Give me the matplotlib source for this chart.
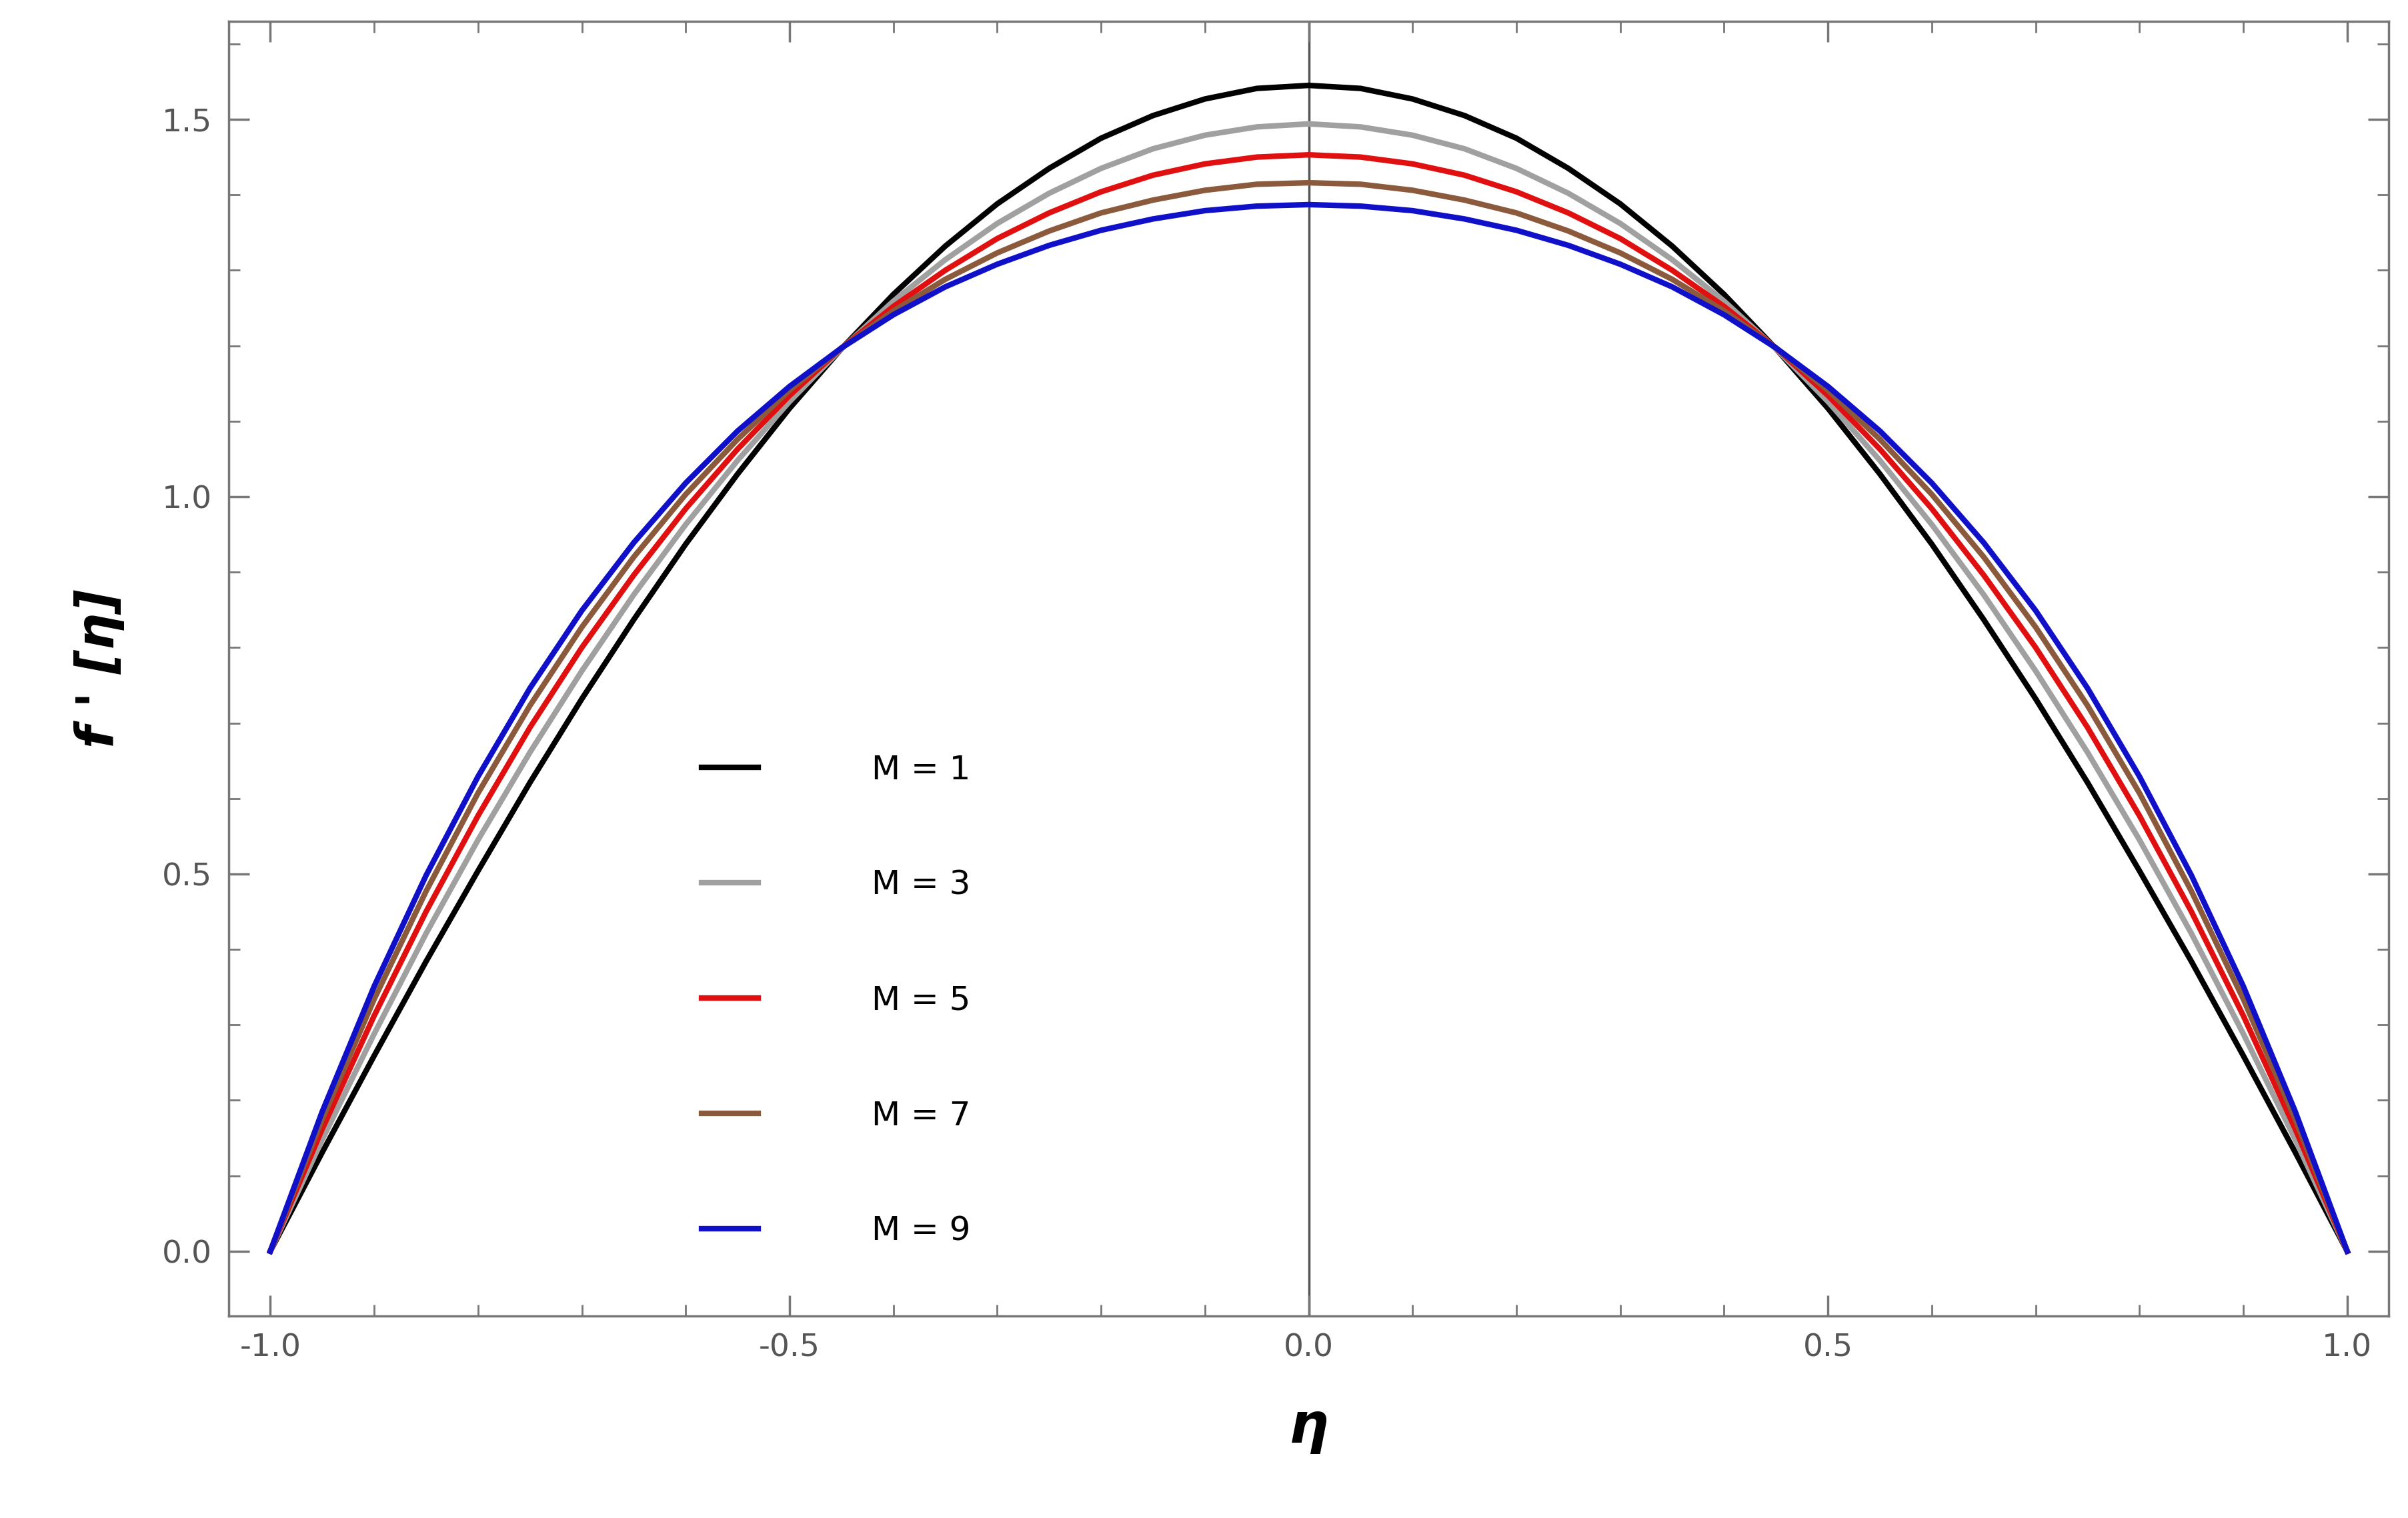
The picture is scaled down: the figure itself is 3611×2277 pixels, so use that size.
import matplotlib
matplotlib.use("Agg")
import matplotlib.pyplot as plt
from matplotlib.ticker import MultipleLocator, FormatStrFormatter

eta = [round(-1 + 0.05 * i, 2) for i in range(41)]
# values for eta = -1.00, -0.95, ..., -0.05 (mirror for positive side)
half_M1 = [0.0,0.131,0.259,0.384,0.504,0.621,0.732,0.837,0.937,1.030,1.117,1.196,1.268,1.332,1.388,1.435,1.475,1.505,1.527,1.541]
half_M3 = [0.0,0.148,0.288,0.421,0.545,0.661,0.769,0.870,0.963,1.048,1.126,1.196,1.259,1.314,1.362,1.402,1.435,1.461,1.479,1.490]
half_M5 = [0.0,0.162,0.312,0.450,0.577,0.694,0.800,0.896,0.984,1.063,1.134,1.197,1.252,1.300,1.342,1.376,1.404,1.426,1.441,1.450]
half_M7 = [0.0,0.175,0.334,0.477,0.607,0.723,0.827,0.920,1.003,1.076,1.141,1.197,1.246,1.288,1.323,1.352,1.376,1.393,1.406,1.414]
half_M9 = [0.0,0.185,0.351,0.498,0.629,0.746,0.849,0.939,1.018,1.087,1.146,1.197,1.241,1.278,1.308,1.333,1.353,1.368,1.379,1.385]
peak = [1.545,1.494,1.453,1.416,1.387]
labels = ["M = 1","M = 3","M = 5","M = 7","M = 9"]
colors = ["#000000","#a0a0a0","#e01010","#8b5a3c","#1010c8"]

halves = [half_M1,half_M3,half_M5,half_M7,half_M9]
series = [h + [p] + h[::-1] for h, p in zip(halves, peak)]

fig = plt.figure(figsize=(36.11,22.77), dpi=100)
ax = fig.add_axes([0.095,0.133,0.897,0.853])
for ys, c, l in zip(series, colors, labels):
    ax.plot(eta, ys, color=c, lw=6, label=l, solid_joinstyle='round')
ax.axvline(0, color="#555555", lw=2.5, zorder=0)
ax.set_xlim(-1.04,1.04)
ax.set_ylim(-0.086,1.63)
ax.xaxis.set_major_locator(MultipleLocator(0.5))
ax.xaxis.set_minor_locator(MultipleLocator(0.1))
ax.yaxis.set_major_locator(MultipleLocator(0.5))
ax.yaxis.set_minor_locator(MultipleLocator(0.1))
ax.xaxis.set_major_formatter(FormatStrFormatter('%.1f'))
ax.yaxis.set_major_formatter(FormatStrFormatter('%.1f'))
ax.tick_params(which='both', direction='in', top=True, right=True, color='#777777', labelcolor='#555555')
ax.tick_params(which='major', length=22, width=2.5, labelsize=34, pad=18)
ax.tick_params(which='minor', length=12, width=2)
for s in ax.spines.values():
    s.set_color('#777777'); s.set_linewidth(2.5)
ax.set_xlabel("η", fontsize=60, fontstyle='italic', fontweight='bold', labelpad=40)
ax.set_ylabel("f ' [η]", fontsize=56, fontstyle='italic', fontweight='bold', labelpad=40)
ax.legend(loc='lower left', bbox_to_anchor=(0.205,0.03), frameon=False, fontsize=36,
          handlelength=1.7, handletextpad=3.4, labelspacing=2.5)
fig.savefig("out.png", dpi=100)
